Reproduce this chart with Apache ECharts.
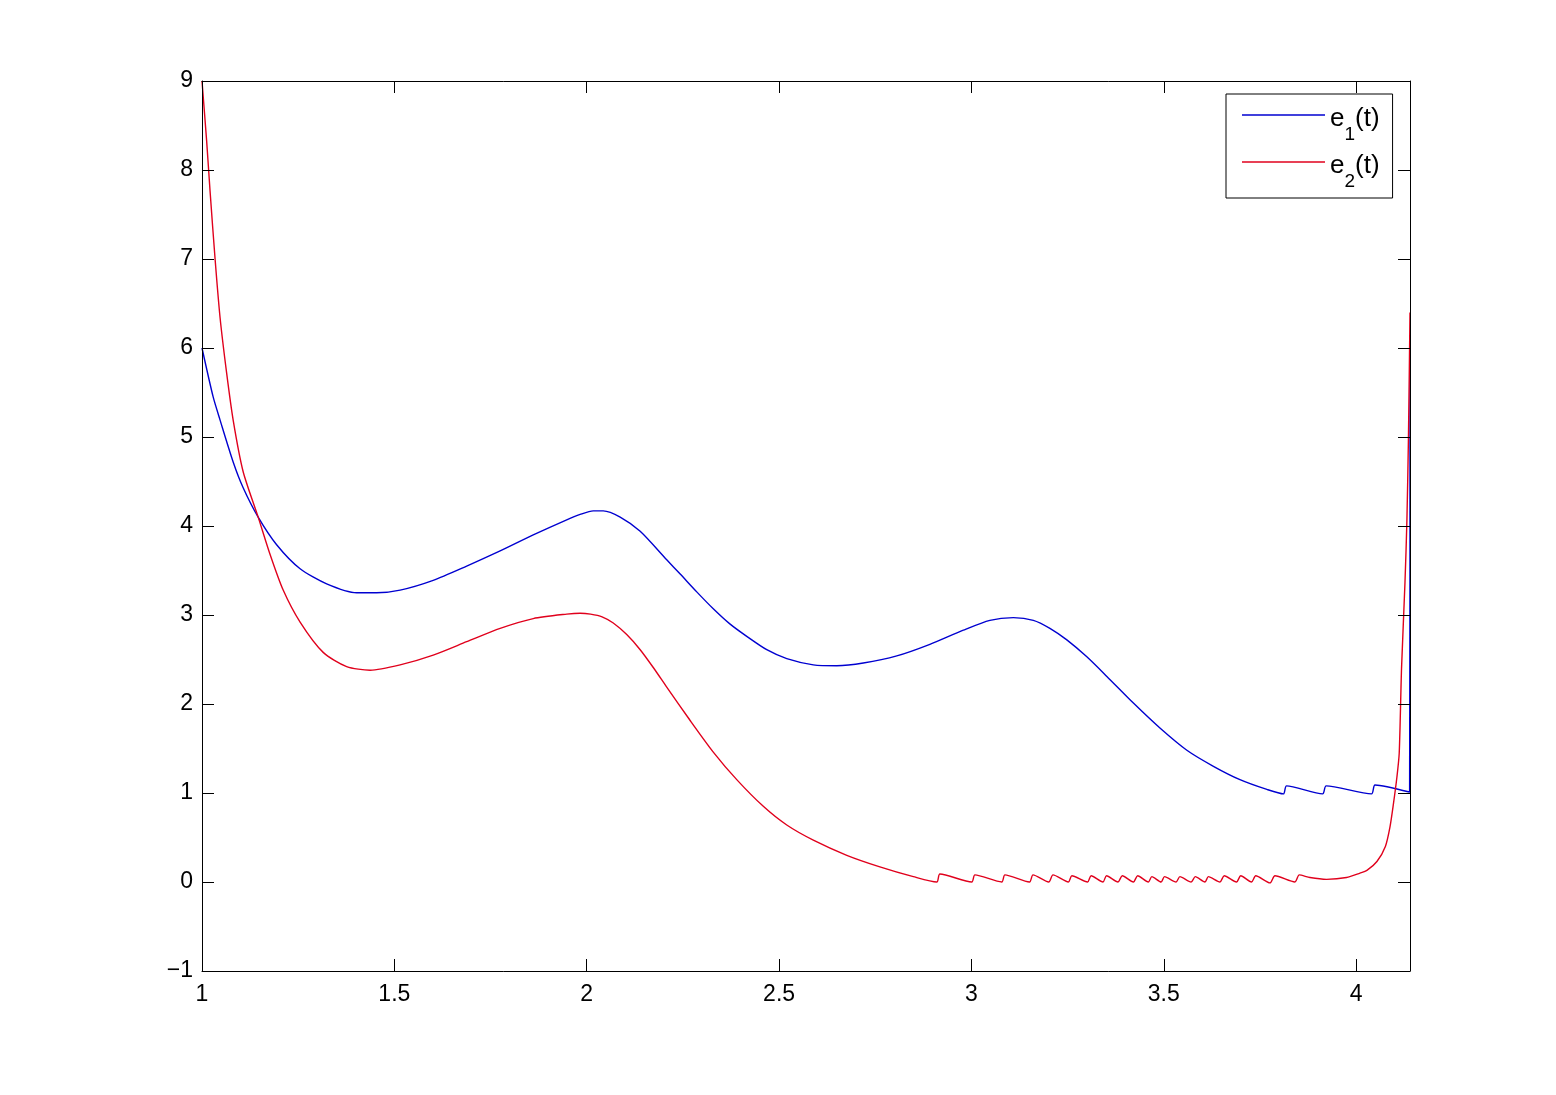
<!DOCTYPE html>
<html>
<head>
<meta charset="utf-8">
<script src="https://cdn.jsdelivr.net/npm/echarts@6/dist/echarts.min.js"></script>
<style>
  html, body { margin: 0; padding: 0; background: #fff; }
  #main { width: 1556px; height: 1095px; }
</style>
</head>
<body>
<div id="main"></div>
<script>
// e1(t): t values and values
var e1T = [1.000, 1.029, 1.047, 1.081, 1.107, 1.146, 1.194, 1.255, 1.324, 1.402,
  1.454, 1.515, 1.601, 1.688, 1.775, 1.861, 1.948, 1.983, 2.017, 2.043,
  2.087, 2.139, 2.208, 2.243, 2.286, 2.329, 2.372, 2.416, 2.468, 2.520,
  2.589, 2.650, 2.719, 2.806, 2.892, 2.979, 3.048, 3.109, 3.161, 3.204,
  3.248, 3.300, 3.352, 3.421, 3.490, 3.560, 3.629, 3.698, 3.768, 3.811,
  3.819, 3.913, 3.922, 4.040, 4.049, 4.139, 4.140];
var e1V = [6.00, 5.45, 5.19, 4.72, 4.43, 4.10, 3.79, 3.52, 3.35, 3.25,
  3.25, 3.28, 3.39, 3.55, 3.72, 3.90, 4.07, 4.13, 4.17, 4.17,
  4.10, 3.94, 3.62, 3.46, 3.26, 3.07, 2.90, 2.76, 2.61, 2.51,
  2.44, 2.43, 2.46, 2.54, 2.67, 2.83, 2.94, 2.97, 2.94, 2.85,
  2.72, 2.53, 2.31, 2.01, 1.73, 1.48, 1.30, 1.15, 1.04, 0.99,
  1.08, 0.99, 1.08, 0.99, 1.09, 1.01, 5.80];

// e2(t)
var e2T = [1.000, 1.012, 1.021, 1.034, 1.047, 1.064, 1.081, 1.107, 1.146, 1.177,
  1.211, 1.255, 1.315, 1.376, 1.437, 1.515, 1.601, 1.688, 1.775, 1.861,
  1.948, 1.983, 2.010, 2.040, 2.069, 2.104, 2.139, 2.173, 2.208, 2.268,
  2.329, 2.390, 2.459, 2.520, 2.589, 2.676, 2.762, 2.849, 2.910,
  2.918, 3.001, 3.009, 3.079, 3.087, 3.151, 3.160, 3.201, 3.212, 3.252,
  3.261, 3.302, 3.311, 3.342, 3.351, 3.381, 3.392, 3.421, 3.432, 3.460,
  3.469, 3.493, 3.502, 3.532, 3.542, 3.571, 3.582, 3.607, 3.616, 3.646,
  3.657, 3.689, 3.700, 3.728, 3.739, 3.776, 3.789, 3.841, 3.852, 3.880,
  3.923, 3.975, 4.010, 4.028, 4.054, 4.076, 4.088, 4.097, 4.106, 4.112,
  4.118, 4.127, 4.132, 4.136, 4.140];
var e2V = [9.00, 8.33, 7.76, 7.00, 6.34, 5.72, 5.19, 4.61, 4.10, 3.68,
  3.28, 2.92, 2.58, 2.42, 2.38, 2.44, 2.55, 2.70, 2.85, 2.96,
  3.01, 3.02, 3.01, 2.98, 2.91, 2.78, 2.61, 2.41, 2.19, 1.82,
  1.46, 1.15, 0.85, 0.64, 0.47, 0.30, 0.17, 0.06, 0.00,
  0.09, 0.00, 0.08, 0.00, 0.08, 0.00, 0.08, 0.00, 0.08, 0.00,
  0.07, 0.00, 0.07, 0.00, 0.07, 0.00, 0.07, 0.00, 0.07, 0.00,
  0.06, 0.00, 0.06, 0.00, 0.06, 0.00, 0.06, 0.00, 0.06, 0.00,
  0.07, 0.00, 0.07, 0.00, 0.07, -0.01, 0.07, 0.00, 0.08, 0.05,
  0.03, 0.05, 0.10, 0.13, 0.23, 0.40, 0.62, 0.88, 1.18, 1.45,
  2.40, 3.37, 4.07, 5.00, 6.40];

var seriesNames = ['e1(t)', 'e2(t)'];
var seriesColors = ['#0000d0', '#e0001c'];

function zip(a, b) {
  var out = [];
  for (var i = 0; i < a.length; i++) out.push([a[i], b[i]]);
  return out;
}

var chart = echarts.init(document.getElementById('main'));

var font = 'Liberation Sans, Arial, Helvetica, sans-serif';
var tickStyle = { show: true, inside: true, length: 12, lineStyle: { color: '#000', width: 1 } };
var lineStyle = { show: true, onZero: false, lineStyle: { color: '#000', width: 1 } };

var option = {
  backgroundColor: '#fff',
  animation: false,
  grid: { left: 202, right: 146, top: 81, bottom: 124 },
  legend: {
    orient: 'vertical',
    left: 1226,
    top: 94,
    padding: [8, 13, 7, 16],
    itemGap: 5,
    itemWidth: 83,
    itemHeight: 1.5,
    icon: 'rect',
    borderColor: '#000',
    borderWidth: 1,
    borderRadius: 0,
    backgroundColor: '#fff',
    data: seriesNames,
    formatter: function (name) {
      return '{m|e}{s|' + name.charAt(1) + '}{m|(t)}';
    },
    textStyle: {
      color: '#000',
      fontFamily: font,
      rich: {
        m: { fontSize: 26, lineHeight: 26, padding: [4, 0, 0, 0], verticalAlign: 'top', fontFamily: font, color: '#000' },
        s: { fontSize: 19, lineHeight: 19, padding: [23, 0, 0, 0], verticalAlign: 'top', fontFamily: font, color: '#000' }
      }
    }
  },
  xAxis: [{
    type: 'value',
    min: 1,
    max: 4.14,
    interval: 0.5,
    position: 'bottom',
    z: 5,
    axisLine: lineStyle,
    axisTick: tickStyle,
    splitLine: { show: false },
    axisLabel: {
      color: '#000', fontSize: 23, fontFamily: font, margin: 12,
      showMaxLabel: false
    }
  }, {
    type: 'value',
    min: 1,
    max: 4.14,
    interval: 0.5,
    position: 'top',
    z: 5,
    axisLine: lineStyle,
    axisTick: tickStyle,
    splitLine: { show: false },
    axisLabel: { show: false }
  }],
  yAxis: [{
    type: 'value',
    min: -1,
    max: 9,
    interval: 1,
    position: 'left',
    z: 5,
    axisLine: lineStyle,
    axisTick: tickStyle,
    splitLine: { show: false },
    axisLabel: {
      color: '#000', fontSize: 23, fontFamily: font, margin: 9,
      formatter: function (v) { return String(v).replace('-', '\u2212'); }
    }
  }, {
    type: 'value',
    min: -1,
    max: 9,
    interval: 1,
    position: 'right',
    z: 5,
    axisLine: lineStyle,
    axisTick: tickStyle,
    splitLine: { show: false },
    axisLabel: { show: false }
  }],
  series: [{
    name: seriesNames[0],
    type: 'line',
    symbol: 'none',
    smooth: 0.25,
    data: zip(e1T, e1V),
    lineStyle: { color: seriesColors[0], width: 1.4 },
    itemStyle: { color: seriesColors[0] }
  }, {
    name: seriesNames[1],
    type: 'line',
    symbol: 'none',
    smooth: 0.25,
    data: zip(e2T, e2V),
    lineStyle: { color: seriesColors[1], width: 1.4 },
    itemStyle: { color: seriesColors[1] }
  }]
};

chart.setOption(option);
</script>
</body>
</html>
